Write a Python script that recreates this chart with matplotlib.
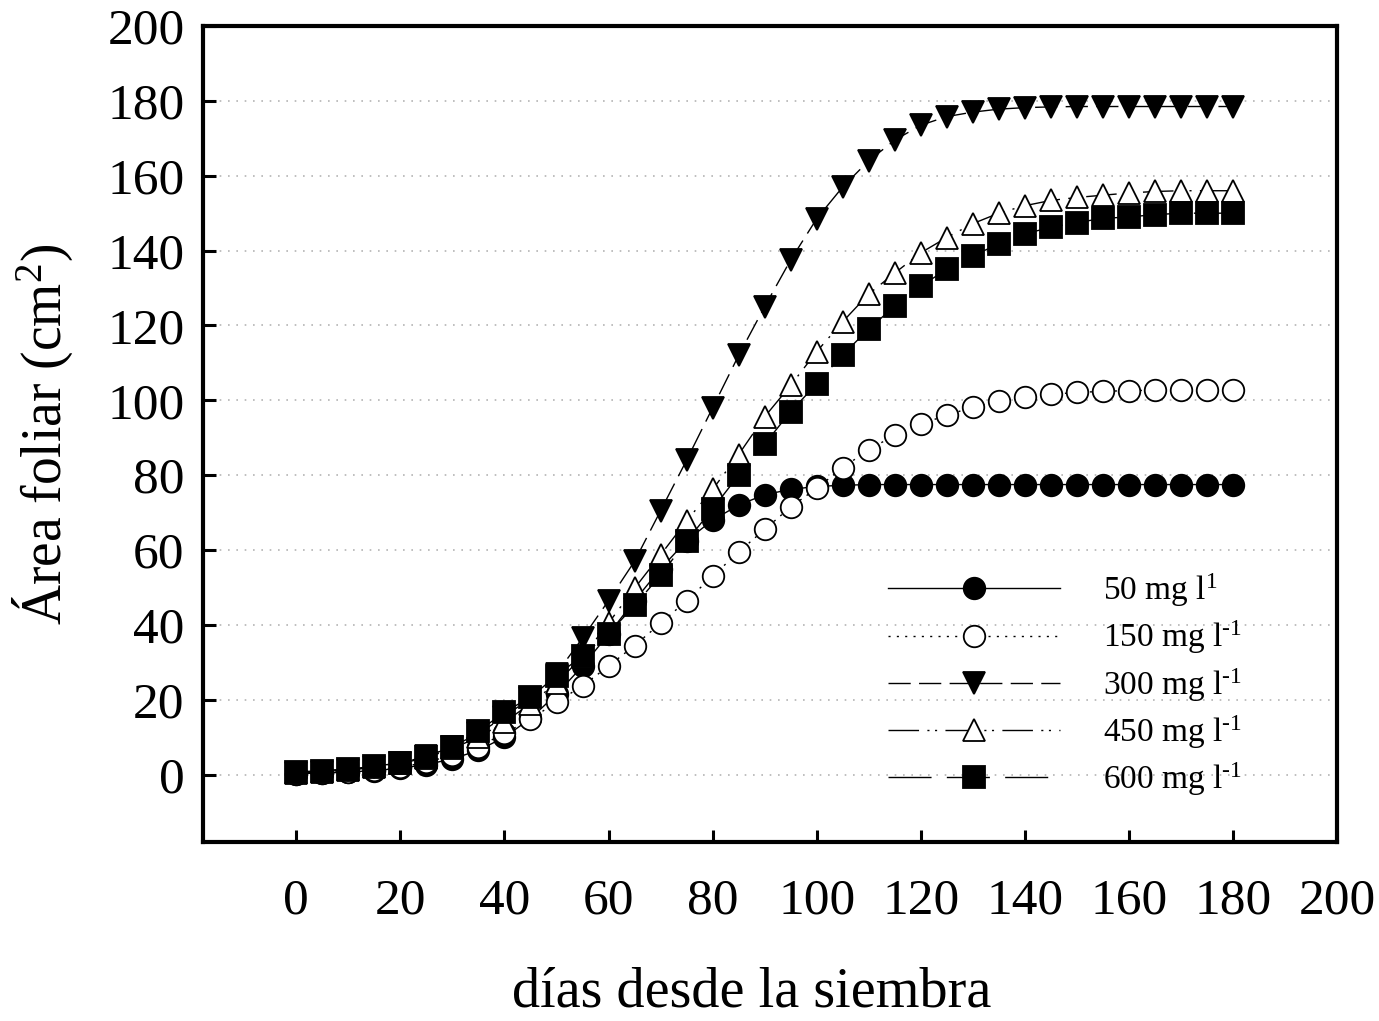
import matplotlib
matplotlib.use("Agg")
import matplotlib.pyplot as plt

plt.rcParams['font.family'] = ['Liberation Serif', 'DejaVu Serif']
plt.rcParams['mathtext.fontset'] = 'custom'
plt.rcParams['mathtext.rm'] = 'Liberation Serif'
plt.rcParams['mathtext.it'] = 'Liberation Serif:italic'

# Days after sowing
dias = list(range(0, 185, 5))

# Leaf area (cm2) for each nutrient concentration
area_50 = [0.3, 0.4, 0.7, 1.1, 1.7, 2.7, 4.2, 6.5, 10.0, 15.0, 21.5, 29.0, 37.5,
           46.5, 55.0, 62.5, 68.0, 72.0, 74.8, 76.2, 77.0, 77.3, 77.5, 77.5, 77.5,
           77.5, 77.5, 77.5, 77.5, 77.5, 77.5, 77.5, 77.5, 77.5, 77.5, 77.5, 77.5]
area_150 = [0.2, 0.4, 0.7, 1.2, 2.0, 3.3, 5.2, 7.5, 11.0, 14.8, 19.4, 23.7, 29.0,
            34.5, 40.4, 46.5, 53.0, 59.5, 65.5, 71.5, 76.5, 82.0, 86.8, 90.7, 93.7,
            96.0, 98.2, 99.7, 100.8, 101.6, 102.1, 102.4, 102.6, 102.7, 102.8, 102.8, 102.8]
area_300 = [0.5, 0.8, 1.3, 2.0, 3.2, 5.0, 7.5, 11.0, 15.5, 20.5, 27.0, 36.5, 46.5,
            57.0, 70.5, 84.0, 98.0, 112.0, 125.0, 137.5, 148.5, 157.0, 164.0, 169.5, 173.5,
            175.8, 177.0, 177.8, 178.2, 178.4, 178.5, 178.5, 178.5, 178.5, 178.5, 178.5, 178.5]
area_450 = [0.4, 0.7, 1.2, 2.0, 3.0, 4.5, 7.0, 10.0, 14.0, 19.0, 24.5, 31.5, 40.5,
            49.8, 58.7, 67.8, 76.2, 85.5, 95.6, 104.0, 113.0, 121.0, 128.4, 134.0, 139.4,
            143.5, 147.2, 150.0, 152.0, 153.4, 154.2, 154.8, 155.4, 155.8, 156.0, 156.0, 156.0]
area_600 = [0.7, 1.1, 1.5, 2.2, 3.2, 4.8, 7.5, 11.6, 16.7, 20.7, 26.4, 31.8, 37.7,
            45.2, 53.3, 62.4, 71.0, 80.0, 88.3, 97.0, 104.4, 112.2, 119.0, 125.2, 130.5,
            135.0, 138.6, 141.8, 144.5, 146.2, 147.5, 148.6, 149.0, 149.6, 150.0, 150.0, 150.0]

etiquetas = ['50 mg l$^{1}$', '150 mg l$^{\\text{-}1}$', '300 mg l$^{\\text{-}1}$',
             '450 mg l$^{\\text{-}1}$', '600 mg l$^{\\text{-}1}$']
x_ticks = list(range(0, 201, 20))
y_ticks = list(range(0, 201, 20))

fig = plt.figure(figsize=(13.79, 10.21), dpi=100)
ax = fig.add_axes([0.147, 0.1753, 0.8225, 0.7992])

lw = 1.0
ms = 15.5
estilos = [
    dict(ls='-', marker='o', mfc='black'),
    dict(ls=(0, (1.5, 4.5)), marker='o', mfc='white'),
    dict(ls=(0, (16, 6)), marker='v', mfc='black'),
    dict(ls=(0, (22, 6, 1.5, 4, 1.5, 6)), marker='^', mfc='white'),
    dict(ls=(0, (31, 11)), marker='s', mfc='black'),
]
series = [area_50, area_150, area_300, area_450, area_600]
for serie, est, lab in zip(series, estilos, etiquetas):
    ax.plot(dias, serie, color='black', lw=lw, ls=est['ls'], marker=est['marker'],
            mfc=est['mfc'], mec='black', mew=1.3, ms=ms, label=lab)

ax.set_xlim(-18, 200)
ax.set_ylim(-18, 200)
ax.set_xticks(x_ticks)
ax.set_yticks(y_ticks)
ax.yaxis.grid(True, color='#b4b4b4', ls=(0, (1, 4)), lw=1.2)
ax.set_axisbelow(True)

for s in ax.spines.values():
    s.set_linewidth(3)
ax.tick_params(axis='both', direction='in', length=9, width=2.2, labelsize=37,
               top=False, right=False)
ax.tick_params(axis='x', pad=26)
ax.tick_params(axis='y', pad=13)

ax.set_xlabel('días desde la siembra', fontsize=40.5)
ax.xaxis.set_label_coords(0.484, -0.153)
ax.set_ylabel('Área foliar (cm$^2$)', fontsize=40)
ax.yaxis.set_label_coords(-0.113, 0.499)

leg = ax.legend(loc='upper left', bbox_to_anchor=(113.7, 54.3),
                bbox_transform=ax.transData, frameon=False, fontsize=24,
                handlelength=5.15, handletextpad=1.3, labelspacing=0.29,
                borderpad=0, borderaxespad=0, numpoints=1)

fig.savefig('out.png', dpi=100)
